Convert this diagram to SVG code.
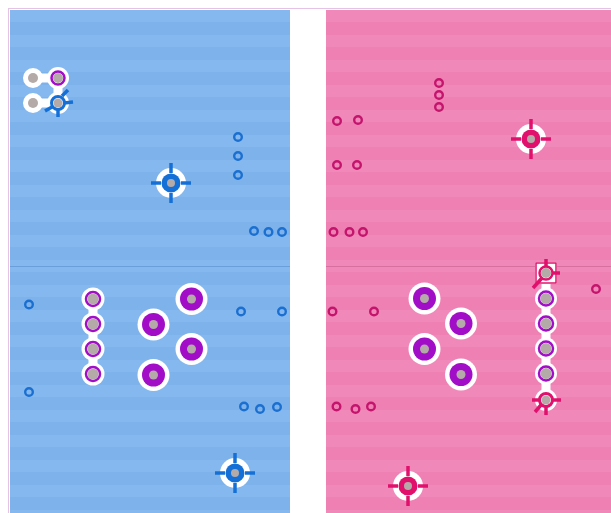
<svg xmlns="http://www.w3.org/2000/svg" width="611" height="513" viewBox="0 0 611 513">
<defs>
<pattern id="sb" width="25" height="25" patternUnits="userSpaceOnUse" y="10"><rect width="25" height="25" fill="#7eb2eb"/><rect y="0" width="25" height="12" fill="#85b8ef"/></pattern>
<pattern id="sp" width="25" height="25" patternUnits="userSpaceOnUse" y="10"><rect width="25" height="25" fill="#ee80b4"/><rect y="0" width="25" height="12" fill="#f188ba"/></pattern>
</defs>
<style>
.rb{fill:none;stroke:#1a6fd0;stroke-width:2.4}
.rp{fill:none;stroke:#c4146c;stroke-width:2.4}
.wh{fill:#fff}
.gy{fill:#b4aaa8}
.pu{fill:#a20ec8}
.pur{fill:none;stroke:#a20ec8;stroke-width:2.5}
.tb{fill:#1470d6}
.tp{fill:#e0106c}
.xb{stroke:#1470d6;stroke-width:3.5;stroke-linecap:butt}
.xp{stroke:#e0106c;stroke-width:3.5;stroke-linecap:butt}
.lk{stroke:#fff;stroke-width:9}
</style>
<rect x="0" y="0" width="611" height="513" fill="#fff"/>
<rect x="8.5" y="8.5" width="610" height="510" fill="none" stroke="#e6c2e6" stroke-width="1"/>
<rect x="10" y="10" width="280" height="503" fill="url(#sb)"/>
<rect x="326" y="10" width="285" height="503" fill="url(#sp)"/>
<line x1="10" y1="266.5" x2="290" y2="266.5" stroke="#6b9fdc" stroke-width="1"/>
<line x1="326" y1="266.5" x2="611" y2="266.5" stroke="#d8709f" stroke-width="1"/>

<g id="connectors">
<line class="lk" x1="33" y1="78" x2="58" y2="78"/>
<line class="lk" x1="33" y1="103" x2="58" y2="103"/>
<line class="lk" x1="58" y1="78" x2="58" y2="103"/>
<line class="lk" x1="93" y1="299" x2="93" y2="374"/>
<line class="lk" x1="546" y1="273" x2="546" y2="400"/>
</g>

<g id="cluster-tl">
<circle class="wh" cx="33" cy="78" r="10"/><circle class="gy" cx="33" cy="78" r="5"/>
<circle class="wh" cx="58" cy="78" r="11"/><circle class="pur" cx="58" cy="78" r="6.5"/><circle class="gy" cx="58" cy="78" r="5"/>
<circle class="wh" cx="33" cy="103" r="10"/><circle class="gy" cx="33" cy="103" r="5"/>
<circle class="wh" cx="58" cy="103" r="11"/>
<g id="target-tl">
<circle cx="58" cy="103" r="6.5" fill="none" stroke="#1470d6" stroke-width="3"/>
<circle class="gy" cx="58" cy="103" r="4.5"/>
<line class="xb" x1="62" y1="96" x2="68" y2="90"/>
<line class="xb" x1="64" y1="103" x2="73" y2="102"/>
<line class="xb" x1="58" y1="110" x2="58" y2="117"/>
<line class="xb" x1="52" y1="107" x2="45" y2="111"/>
</g>
</g>

<g id="target-b1"><circle class="wh" cx="171" cy="183" r="15"/><circle class="tb" cx="171" cy="183" r="9.5"/><circle class="gy" cx="171" cy="183" r="4"/>
<path class="xb" d="M171 163v10M171 193v10M151 183h10M181 183h10"/></g>
<g id="target-b2"><circle class="wh" cx="235" cy="473" r="15"/><circle class="tb" cx="235" cy="473" r="9.5"/><circle class="gy" cx="235" cy="473" r="4"/>
<path class="xb" d="M235 453v10M235 483v10M215 473h10M245 473h10"/></g>
<g id="target-p1"><circle class="wh" cx="531" cy="139" r="15"/><circle class="tp" cx="531" cy="139" r="9.5"/><circle class="gy" cx="531" cy="139" r="4"/>
<path class="xp" d="M531 119v10M531 149v10M511 139h10M541 139h10"/></g>
<g id="target-p2"><circle class="wh" cx="408" cy="486" r="15"/><circle class="tp" cx="408" cy="486" r="9.5"/><circle class="gy" cx="408" cy="486" r="4"/>
<path class="xp" d="M408 466v10M408 496v10M388 486h10M418 486h10"/></g>

<g id="vias-blue">
<circle class="rb" cx="238" cy="137" r="3.8"/><circle class="rb" cx="238" cy="156" r="3.8"/><circle class="rb" cx="238" cy="175" r="3.8"/>
<circle class="rb" cx="254" cy="231" r="3.8"/><circle class="rb" cx="268.5" cy="232" r="3.8"/><circle class="rb" cx="282" cy="232" r="3.8"/>
<circle class="rb" cx="241" cy="311.5" r="3.8"/><circle class="rb" cx="282" cy="311.5" r="3.8"/>
<circle class="rb" cx="29" cy="304.5" r="3.8"/><circle class="rb" cx="29" cy="392" r="3.8"/>
<circle class="rb" cx="244" cy="406.5" r="3.8"/><circle class="rb" cx="260" cy="409" r="3.8"/><circle class="rb" cx="277" cy="407" r="3.8"/>
</g>
<g id="vias-pink">
<circle class="rp" cx="439" cy="83" r="3.8"/><circle class="rp" cx="439" cy="95" r="3.8"/><circle class="rp" cx="439" cy="107" r="3.8"/>
<circle class="rp" cx="337" cy="121" r="3.8"/><circle class="rp" cx="358" cy="120" r="3.8"/>
<circle class="rp" cx="337" cy="165" r="3.8"/><circle class="rp" cx="357" cy="165" r="3.8"/>
<circle class="rp" cx="333.5" cy="232" r="3.8"/><circle class="rp" cx="349.5" cy="232" r="3.8"/><circle class="rp" cx="363" cy="232" r="3.8"/>
<circle class="rp" cx="332.5" cy="311.5" r="3.8"/><circle class="rp" cx="374" cy="311.5" r="3.8"/>
<circle class="rp" cx="336.5" cy="406.5" r="3.8"/><circle class="rp" cx="355.5" cy="409" r="3.8"/><circle class="rp" cx="371" cy="406.5" r="3.8"/>
<circle class="rp" cx="596" cy="289" r="3.8"/>
</g>

<g id="column-left">
<circle class="wh" cx="93" cy="299" r="11.5"/><circle class="pur" cx="93" cy="299" r="7"/><circle class="gy" cx="93" cy="299" r="5.5"/>
<circle class="wh" cx="93" cy="324" r="11.5"/><circle class="pur" cx="93" cy="324" r="7"/><circle class="gy" cx="93" cy="324" r="5.5"/>
<circle class="wh" cx="93" cy="349" r="11.5"/><circle class="pur" cx="93" cy="349" r="7"/><circle class="gy" cx="93" cy="349" r="5.5"/>
<circle class="wh" cx="93" cy="374" r="11.5"/><circle class="pur" cx="93" cy="374" r="7"/><circle class="gy" cx="93" cy="374" r="5.5"/>
</g>
<g id="pads-left">
<circle class="wh" cx="153.5" cy="324.5" r="16"/><circle class="pu" cx="153.5" cy="324.5" r="11.5"/><circle class="gy" cx="153.5" cy="324.5" r="4.5"/>
<circle class="wh" cx="191.5" cy="299" r="16"/><circle class="pu" cx="191.5" cy="299" r="11.5"/><circle class="gy" cx="191.5" cy="299" r="4.5"/>
<circle class="wh" cx="191.5" cy="349" r="16"/><circle class="pu" cx="191.5" cy="349" r="11.5"/><circle class="gy" cx="191.5" cy="349" r="4.5"/>
<circle class="wh" cx="153.5" cy="375" r="16"/><circle class="pu" cx="153.5" cy="375" r="11.5"/><circle class="gy" cx="153.5" cy="375" r="4.5"/>
</g>
<g id="pads-right">
<circle class="wh" cx="424.5" cy="298.5" r="16"/><circle class="pu" cx="424.5" cy="298.5" r="11.5"/><circle class="gy" cx="424.5" cy="298.5" r="4.5"/>
<circle class="wh" cx="461" cy="323.5" r="16"/><circle class="pu" cx="461" cy="323.5" r="11.5"/><circle class="gy" cx="461" cy="323.5" r="4.5"/>
<circle class="wh" cx="424.5" cy="349" r="16"/><circle class="pu" cx="424.5" cy="349" r="11.5"/><circle class="gy" cx="424.5" cy="349" r="4.5"/>
<circle class="wh" cx="461" cy="374.5" r="16"/><circle class="pu" cx="461" cy="374.5" r="11.5"/><circle class="gy" cx="461" cy="374.5" r="4.5"/>
</g>
<g id="column-right">
<rect class="wh" x="535" y="262" width="22" height="22"/>
<rect x="536" y="263" width="20" height="20" fill="none" stroke="#e0106c" stroke-width="1.5"/>
<circle cx="546" cy="273" r="6.5" fill="none" stroke="#e0106c" stroke-width="2.5"/>
<circle class="gy" cx="546" cy="273" r="5"/>
<path class="xp" d="M546 259v8M552 273h8M542 278l-9 10"/>
<circle class="wh" cx="546" cy="298.5" r="11"/><circle class="pur" cx="546" cy="298.5" r="7"/><circle class="gy" cx="546" cy="298.5" r="5.5"/>
<circle class="wh" cx="546" cy="323.5" r="11"/><circle class="pur" cx="546" cy="323.5" r="7"/><circle class="gy" cx="546" cy="323.5" r="5.5"/>
<circle class="wh" cx="546" cy="348.5" r="11"/><circle class="pur" cx="546" cy="348.5" r="7"/><circle class="gy" cx="546" cy="348.5" r="5.5"/>
<circle class="wh" cx="546" cy="373.5" r="11"/><circle class="pur" cx="546" cy="373.5" r="7"/><circle class="gy" cx="546" cy="373.5" r="5.5"/>
<circle class="wh" cx="546" cy="400" r="11"/>
<circle cx="546" cy="400" r="6.5" fill="none" stroke="#e0106c" stroke-width="3"/>
<circle class="gy" cx="546" cy="400" r="4.5"/>
<path class="xp" d="M532 400h8M552 400h9M546 406v9M541 405l-6 7"/>
</g>
</svg>
